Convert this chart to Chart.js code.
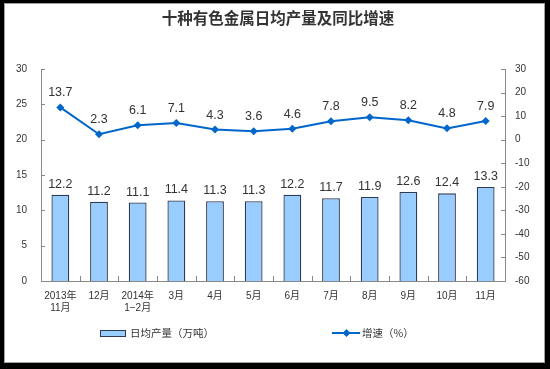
<!DOCTYPE html>
<html>
<head>
<meta charset="utf-8">
<script src="https://cdn.jsdelivr.net/npm/chart.js@4"></script>
<style>
  html, body { margin: 0; background: #000; }
  #frame { position: absolute; left: 4px; top: 3px; width: 541px; height: 360px; box-sizing: border-box; background: #fff; border: 1px solid #a0a0a0; }
  #wrap { position: absolute; left: 0; top: 0; width: 550px; height: 369px; }
</style>
</head>
<body>
<div id="frame"></div>
<div id="wrap"><canvas id="chart"></canvas></div>
<script>
const months = [["2013年", "11月"], "12月", ["2014年", "1−2月"], "3月", "4月", "5月", "6月", "7月", "8月", "9月", "10月", "11月"];
const output = [12.2, 11.2, 11.1, 11.4, 11.3, 11.3, 12.2, 11.7, 11.9, 12.6, 12.4, 13.3];
const growth = [13.7, 2.3, 6.1, 7.1, 4.3, 3.6, 4.6, 7.8, 9.5, 8.2, 4.8, 7.9];
const leftTicks = [0, 5, 10, 15, 20, 25, 30];
const rightTicks = [-60, -50, -40, -30, -20, -10, 0, 10, 20, 30];

const BAR_FILL = "#99CCFF";
const BAR_LINE = "#2b3a55";
const LINE_BLUE = "#0066CC";
const AXIS = "#888";
const numFont = '"Liberation Sans", "Noto Sans CJK SC", sans-serif';
const cjkFont = '"Noto Sans CJK SC", sans-serif';

const decorations = {
  id: "decorations",
  afterDatasetsDraw(chart) {
    const { ctx } = chart;
    ctx.save();
    ctx.font = `12.5px ${numFont}`;
    ctx.fillStyle = "#333";
    ctx.textAlign = "center";
    ctx.textBaseline = "alphabetic";
    // dataset 0 = growth line, dataset 1 = output bars
    chart.getDatasetMeta(1).data.forEach((el, i) => {
      ctx.fillText(output[i].toFixed(1), el.x, el.y - 7);
    });
    chart.getDatasetMeta(0).data.forEach((el, i) => {
      ctx.fillText(growth[i].toFixed(1), el.x, el.y - 11);
    });
    ctx.restore();
  },
  afterDraw(chart) {
    const { ctx, chartArea, scales } = chart;
    ctx.save();
    // inward tick marks
    ctx.strokeStyle = AXIS;
    ctx.lineWidth = 1;
    ctx.beginPath();
    leftTicks.forEach((v) => {
      const y = Math.round(scales.y.getPixelForValue(v)) + 0.5;
      ctx.moveTo(chartArea.left, y);
      ctx.lineTo(chartArea.left + 4, y);
    });
    rightTicks.forEach((v) => {
      const y = Math.round(scales.y1.getPixelForValue(v)) + 0.5;
      ctx.moveTo(chartArea.right - 4, y);
      ctx.lineTo(chartArea.right, y);
    });
    for (let i = 1; i < months.length; i++) {
      const x = Math.round((scales.x.getPixelForValue(i - 1) + scales.x.getPixelForValue(i)) / 2) + 0.5;
      ctx.moveTo(x, chartArea.bottom);
      ctx.lineTo(x, chartArea.bottom - 5);
    }
    ctx.stroke();

    // title
    ctx.fillStyle = "#333";
    ctx.font = `600 15.5px ${cjkFont}`;
    ctx.textAlign = "center";
    ctx.textBaseline = "middle";
    ctx.fillText("十种有色金属日均产量及同比增速", 278, 18);

    // legend
    ctx.font = `10.5px ${cjkFont}`;
    ctx.textAlign = "left";
    ctx.fillStyle = BAR_FILL;
    ctx.fillRect(100, 330, 25, 7);
    ctx.strokeStyle = BAR_LINE;
    ctx.strokeRect(100.5, 330.5, 25, 6);
    ctx.fillStyle = "#333";
    ctx.fillText("日均产量（万吨）", 130, 333);

    ctx.strokeStyle = LINE_BLUE;
    ctx.lineWidth = 2;
    ctx.beginPath();
    ctx.moveTo(332, 333);
    ctx.lineTo(360, 333);
    ctx.stroke();
    ctx.fillStyle = LINE_BLUE;
    ctx.beginPath();
    ctx.moveTo(346.5, 329);
    ctx.lineTo(350.5, 333);
    ctx.lineTo(346.5, 337);
    ctx.lineTo(342.5, 333);
    ctx.closePath();
    ctx.fill();
    ctx.fillStyle = "#333";
    ctx.fillText("增速（%）", 362, 333);
    ctx.restore();
  },
};

new Chart(document.getElementById("chart"), {
  data: {
    labels: months,
    datasets: [
      {
        type: "line",
        data: growth,
        yAxisID: "y1",
        borderColor: LINE_BLUE,
        borderWidth: 2,
        backgroundColor: LINE_BLUE,
        pointStyle: "rectRot",
        pointRadius: 4,
        pointBackgroundColor: LINE_BLUE,
        pointBorderWidth: 0,
        tension: 0,
        order: 0,
      },
      {
        type: "bar",
        data: output,
        yAxisID: "y",
        backgroundColor: BAR_FILL,
        borderColor: BAR_LINE,
        borderWidth: 1.3,
        barPercentage: 0.46,
        categoryPercentage: 1,
        order: 1,
      },
    ],
  },
  options: {
    responsive: true,
    maintainAspectRatio: false,
    animation: false,
    layout: { padding: { top: 69, left: 0, right: 0, bottom: 0 } },
    plugins: {
      legend: { display: false },
      tooltip: { enabled: false },
      title: { display: false },
    },
    scales: {
      x: {
        offset: true,
        grid: { display: false, drawTicks: false },
        border: { display: true, color: AXIS },
        ticks: {
          font: { size: 10, family: numFont },
          color: "#333",
          padding: 9,
          maxRotation: 0,
          autoSkip: false,
        },
        afterFit(scale) { scale.height = 88; },
      },
      y: {
        position: "left",
        min: 0,
        max: 30,
        grid: { display: false, drawTicks: false },
        border: { display: true, color: AXIS },
        ticks: {
          stepSize: 5,
          font: { size: 10, family: numFont },
          color: "#333",
          padding: 14,
        },
        afterFit(scale) { scale.width = 41; },
      },
      y1: {
        position: "right",
        min: -60,
        max: 30,
        grid: { display: false, drawTicks: false },
        border: { display: true, color: AXIS },
        ticks: {
          stepSize: 10,
          font: { size: 10, family: numFont },
          color: "#333",
          padding: 10,
        },
        afterFit(scale) { scale.width = 45; },
      },
    },
  },
  plugins: [decorations],
});
</script>
</body>
</html>
